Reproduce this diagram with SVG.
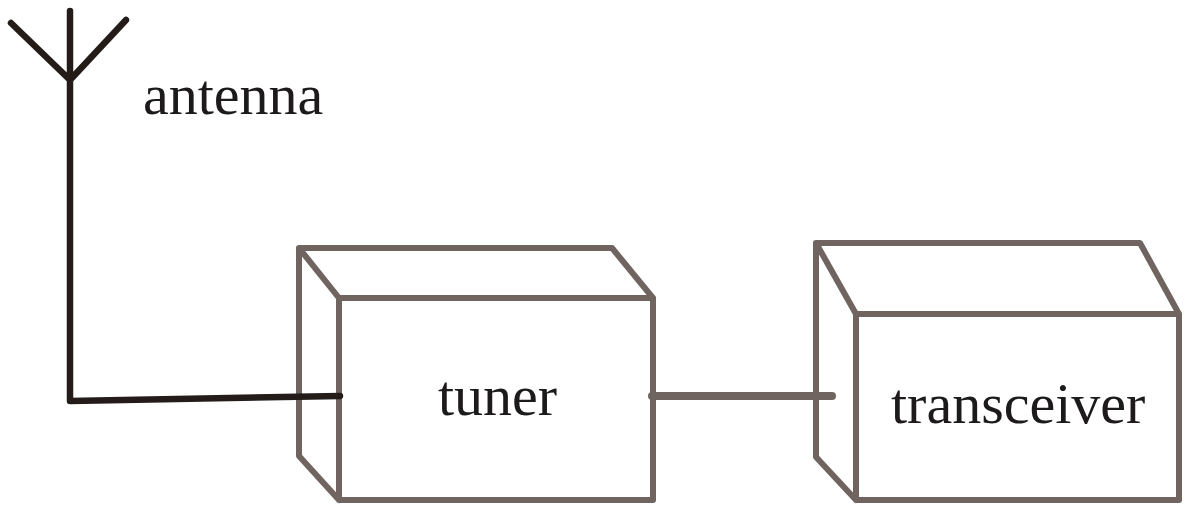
<svg xmlns="http://www.w3.org/2000/svg" width="1202" height="522" viewBox="0 0 1202 522">
<style>
.box{fill:none;stroke:#6f6460;stroke-width:6;stroke-linejoin:round;stroke-linecap:round}
.wire{fill:none;stroke:#6f6460;stroke-width:8;stroke-linecap:round}
.ant{fill:none;stroke:#231c19;stroke-width:6.5;stroke-linejoin:round;stroke-linecap:round}
.lbl{font-family:"Liberation Serif","Times New Roman",serif;font-size:58px;fill:#1c1a1a}
</style>
<rect width="1202" height="522" fill="#fff"/>
<g id="tuner">
<path class="box" d="M339 298H653V500H339ZM339 298L299 248H612L653 298M299 248V456L339 500"/>
<text class="lbl" x="438" y="415">tuner</text>
</g>
<g id="transceiver">
<path class="box" d="M856 314H1179V500H856ZM856 314L816 243H1140L1179 314M816 243V457L856 500"/>
<text class="lbl" x="891" y="423">transceiver</text>
</g>
<g id="antenna"><text class="lbl" x="143" y="114">antenna</text></g>
<g id="connectors">
<path class="ant" d="M70 11V401L340 396M70 80L11 23M70 80L126 20"/>
<path class="wire" d="M652 396H832"/>
</g>
</svg>
